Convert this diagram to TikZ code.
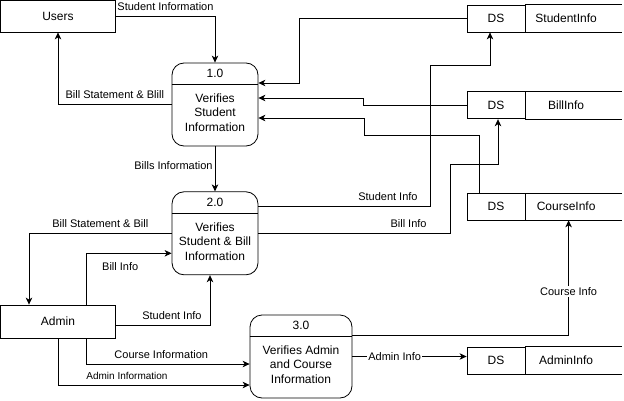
\documentclass[tikz,border=0pt]{standalone}
\usepackage{fontspec}
\setmainfont{Liberation Sans}
\usetikzlibrary{arrows.meta,positioning}

\begin{document}
\begin{tikzpicture}[
  x=1pt,y=1pt,
  font=\fontsize{12}{14.5}\selectfont,
  entity/.style={draw,line width=0.8pt,minimum width=115pt,minimum height=32pt,inner sep=0pt},
  proc/.style={draw,line width=0.8pt,rounded corners=12pt,minimum width=86pt,minimum height=83pt,inner sep=0pt},
  proctext/.style={align=center,inner sep=0pt},
  dscell/.style={draw,line width=0.8pt,minimum width=58pt,minimum height=27pt,inner sep=0pt},
  dsname/.style={minimum width=81pt,minimum height=27pt,inner sep=0pt},
  flow/.style={-{Stealth[length=7pt,width=6.5pt,inset=2pt]},line width=0.8pt},
  lbl/.style={font=\fontsize{11}{13}\selectfont,inner sep=1pt},
  lblbox/.style={lbl,fill=white,inner sep=1.5pt}
]
\path[use as bounding box,fill=white] (0,0) rectangle (624,400);
% external entities
\node[entity] (users) at (58,384) {Users};
\node[entity,minimum height=33pt] (admin) at (58,78.5) {Admin};
% processes
\node[proc] (p1) at (215,295.5) {};
\node[proc,below=45pt of p1] (p2) {};
\node[proc,minimum width=102pt] (p3) at (301,43.5) {};
\foreach \p/\pid in {p1/1.0,p2/2.0,p3/3.0}{
  \node (\p-num) at ([yshift=-10.5pt]\p.north) {\pid};
  \draw[line width=0.8pt] ([yshift=-21.5pt]\p.north west) -- ([yshift=-21.5pt]\p.north east);
}
\node[proctext] (p1-txt) at ([yshift=-8pt]p1.center) {Verifies\\Student\\Information};
\node[proctext] (p2-txt) at ([yshift=-8pt]p2.center) {Verifies\\Student \& Bill\\Information};
\node[proctext] (p3-txt) at ([yshift=-8pt]p3.center) {Verifies Admin\\and Course\\Information};
% data stores
\node[dscell] (ds1) at (496,381.5) {DS};
\node[dscell,below=59pt of ds1] (ds2) {DS};
\node[dscell,below=73.5pt of ds2] (ds3) {DS};
\node[dscell,below=126pt of ds3] (ds4) {DS};
\node[dsname,right=0pt of ds1] (si) {StudentInfo};
\node[dsname,right=0pt of ds2] (bi) {BillInfo};
\node[dsname,right=0pt of ds3] (ci) {CourseInfo};
\node[dsname,right=0pt of ds4] (ai) {AdminInfo};
\foreach \n in {si,bi,ci,ai}
  \draw[line width=0.8pt] (\n.north west) -- ++(97,0) (\n.south west) -- ++(97,0);
% flows
\draw[flow] (users.east) -| (p1.north) node[lbl,pos=0.25,above=4pt] {Student Information};
\draw[flow] (p1.west) -| (users.south) node[lbl,pos=0.25,above=4pt] {Bill Statement \& Blill};
\draw[flow] (p1.south) -- (p2.north) node[lbl,pos=0.42,left=1pt] {Bills Information};
\draw[flow] (ds1.west) -- ++(-167,0) |- ([yshift=21.5pt]p1.east);
\draw[flow] (ds2.west) -- ++(-103,0) |- ([yshift=6.5pt]p1.east);
\draw[flow] ([xshift=13pt]ds3.north west) |- (364,265) |- ([yshift=-13.5pt]p1.east);
\draw[flow] ([yshift=27pt]p2.east) -| (430,335) node[lbl,pos=0.5,above left=4pt and 11pt] {Student Info}
  -| ([xshift=-6pt]ds1.south);
\draw[flow] (p2.east) -| (450,236) node[lbl,pos=0.5,above left=4pt and 22pt] {Bill Info}
  -| ([xshift=2pt]ds2.south);
\draw[flow] (p2.west) -| ([xshift=-29pt]admin.north) node[lbl,pos=0.25,above=4pt] {Bill Statement \& Bill};
\draw[flow] ([xshift=28pt]admin.north) |- ([yshift=-20pt]p2.west) node[lbl,pos=0.7,below=8pt] {Bill Info};
\draw[flow] ([yshift=-3.5pt]admin.east) -| ([xshift=-5pt]p2.south) node[lbl,pos=0.5,above left=4pt and 7pt] {Student Info};
\draw[flow] ([xshift=28pt]admin.south) |- ([yshift=-7.5pt]p3.west) node[lbl,pos=0.73,above=4pt] {Course Information};
\draw[flow] (admin.south) |- ([yshift=-28.5pt]p3.west)
  node[lbl,pos=0.68,above=4pt,font=\fontsize{10}{12}\selectfont] {Admin Information};
\draw[flow] ([yshift=21.5pt]p3.east) -| ([xshift=2.5pt]ci.south) node[lblbox,pos=0.69] {Course Info};
\draw[flow] (p3.east) -- (p3.east -| ds4.west) node[lblbox,pos=0.37] {Admin Info};
\end{tikzpicture}
\end{document}
